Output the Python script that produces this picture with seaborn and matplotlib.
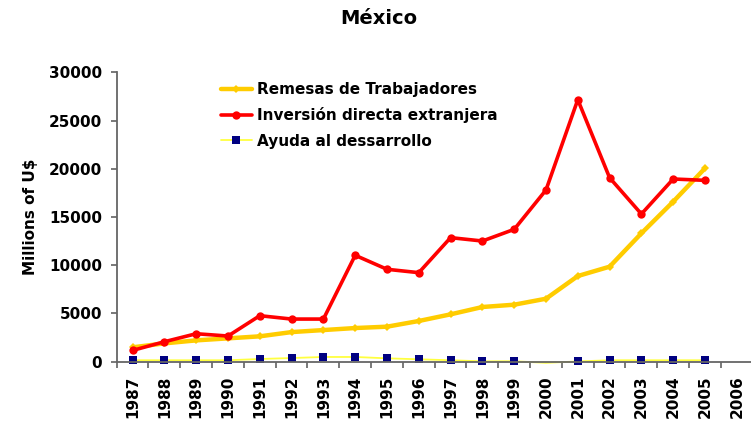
import matplotlib

matplotlib.use("Agg")
import matplotlib.pyplot as plt
import numpy as np
import pandas as pd
import seaborn as sns

# Values (millions of US$)
years = [1987, 1988, 1989, 1990, 1991, 1992, 1993, 1994, 1995, 1996,
         1997, 1998, 1999, 2000, 2001, 2002, 2003, 2004, 2005, 2006]
data_years = years[:-1]  # 2006 has no data, only a tick label
remesas = [1490, 1900, 2210, 2420, 2630, 3070, 3280, 3490, 3630, 4220,
           4910, 5670, 5910, 6530, 8880, 9850, 13310, 16590, 20050]
inversion = [1170, 2070, 2900, 2660, 4770, 4420, 4420, 11030, 9580, 9230,
             12860, 12510, 13720, 17800, 27160, 19070, 15310, 18940, 18800]
ayuda = [150, 150, 150, 150, 280, 380, 490, 490, 350, 250,
         150, 40, 50, -120, 30, 150, 150, 150, 150]

labels = ["Remesas de Trabajadores", "Inversión directa extranjera", "Ayuda al dessarrollo"]

df = pd.DataFrame({"year": data_years, "remesas": remesas,
                   "inversion": inversion, "ayuda": ayuda})

sns.set_style("white")
plt.rcParams["font.family"] = ["DejaVu Sans"]
plt.rcParams["font.weight"] = "bold"
plt.rcParams["text.color"] = "black"
plt.rcParams["axes.labelcolor"] = "black"
plt.rcParams["xtick.color"] = "black"
plt.rcParams["ytick.color"] = "black"

fig = plt.figure(figsize=(7.51, 4.21), dpi=100, facecolor="white")
ax = fig.add_axes([116.7 / 751, 1 - 361.7 / 421, 636 / 751, (361.7 - 72.3) / 421])

sns.lineplot(data=df, x="year", y="remesas", ax=ax, color="#FFCC00", lw=3.2,
             marker="D", markersize=4.5, markeredgewidth=0, markerfacecolor="#FFCC00",
             label=labels[0])
sns.lineplot(data=df, x="year", y="inversion", ax=ax, color="#FF0000", lw=2.6,
             marker="o", markersize=6, markeredgewidth=0, markerfacecolor="#FF0000",
             label=labels[1])
# markers below the axis floor are hidden (as in the original), the thin line is not
visible_idx = [i for i, v in enumerate(ayuda) if v >= 0]
sns.lineplot(data=df, x="year", y="ayuda", ax=ax, color="#FFFF40", lw=1.3,
             marker="s", markersize=5.5, markeredgewidth=0, markerfacecolor="#000080",
             markevery=visible_idx, clip_on=False, label=labels[2])

ax.set_xlim(years[0] - 0.5, years[-1] + 0.5)
ax.set_ylim(0, 30000)
ax.set_yticks(np.arange(0, 30001, 5000))
ax.set_xticks(years)
ax.set_xticklabels([str(y) for y in years], rotation=90, fontsize=11, fontweight="bold")
ax.set_xticks(np.arange(years[0] - 0.5, years[-1] + 1, 1.0), minor=True)
ax.tick_params(axis="x", which="major", length=0, pad=10, labelcolor="black")
ax.tick_params(axis="x", which="minor", length=4.5, width=1.1, color="#555555", bottom=True)
ax.tick_params(axis="y", which="major", length=4.5, width=1.1, color="#555555", pad=6,
               labelsize=11, left=True, labelcolor="black")
for t in ax.get_yticklabels():
    t.set_fontweight("bold")

ax.set_xlabel("")
ax.set_ylabel("Millions of U$", fontsize=11, fontweight="bold", labelpad=8, color="black")

for side in ["top", "right"]:
    ax.spines[side].set_visible(False)
for side in ["left", "bottom"]:
    ax.spines[side].set_color("#666666")
    ax.spines[side].set_linewidth(1.3)

leg = ax.legend(loc="upper left", bbox_to_anchor=(221 / 751, 1 - 82 / 421),
                bbox_transform=fig.transFigure, frameon=False, fontsize=11,
                handlelength=2.0, handletextpad=0.35, labelspacing=0.68, borderpad=0,
                borderaxespad=0)
for t in leg.get_texts():
    t.set_fontweight("bold")
    t.set_color("black")

fig.text(379 / 751, 1 - 18 / 421, "México", ha="center", va="center",
         fontsize=14, fontweight="bold", color="black")

fig.savefig("out.png", dpi=100, facecolor="white")
